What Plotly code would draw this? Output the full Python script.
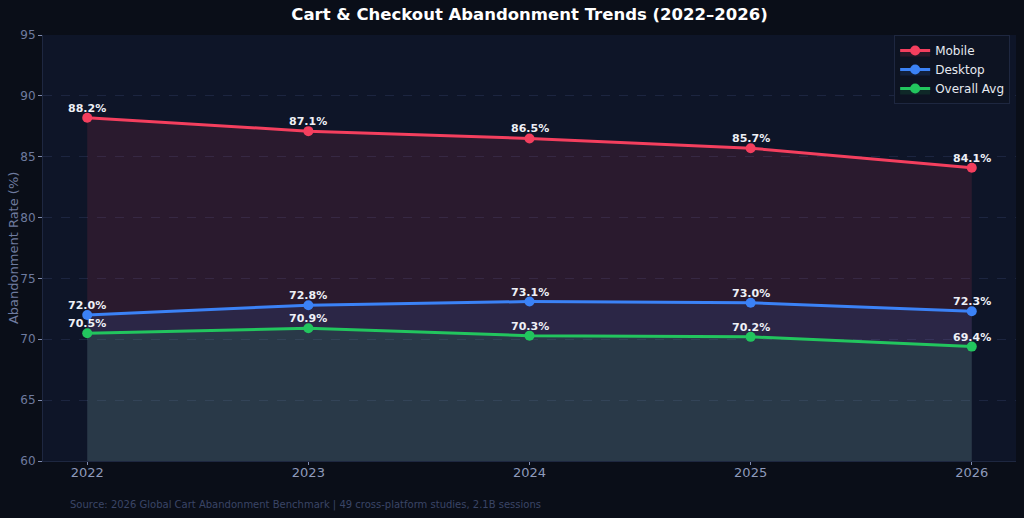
import plotly.graph_objects as go

years = ["2022", "2023", "2024", "2025", "2026"]
mobile = [88.2, 87.1, 86.5, 85.7, 84.1]
desktop = [72.0, 72.8, 73.1, 73.0, 72.3]
overall = [70.5, 70.9, 70.3, 70.2, 69.4]

series = [
    ("Mobile", mobile, "#f43f5e", "rgba(244,63,94,0.12)"),
    ("Desktop", desktop, "#3b82f6", "rgba(59,130,246,0.12)"),
    ("Overall Avg", overall, "#22c55e", "rgba(34,197,94,0.12)"),
]

fig = go.Figure()
annotations = []
for name, vals, col, fcol in series:
    fig.add_trace(go.Scatter(
        x=years, y=vals, name=name, mode="lines+markers",
        line=dict(color=col, width=3), marker=dict(size=10, color=col),
        fill="tozeroy", fillcolor=fcol,
    ))
    for i, v in enumerate(vals):
        annotations.append(dict(
            x=i, y=v, xref="x", yref="y", text=f"<b>{v:.1f}%</b>", showarrow=False,
            yanchor="bottom", yshift=1,
            font=dict(family="DejaVu Sans", size=11, color="#eef0f6")))

annotations.append(dict(
    text="Source: 2026 Global Cart Abandonment Benchmark | 49 cross-platform studies, 2.1B sessions",
    xref="paper", yref="paper", x=0.0257, y=-0.103, xanchor="left", yanchor="middle",
    showarrow=False, font=dict(size=10, color="#3a4566")))

annotations.append(dict(
    text="Abandonment Rate (%)", textangle=-90,
    xref="paper", yref="paper", x=-0.0308, y=0.5, xanchor="center", yanchor="middle",
    showarrow=False, font=dict(size=13, color="#6f7b9f")))

fig.update_layout(
    width=1024, height=518,
    paper_bgcolor="#0a0e18", plot_bgcolor="#0e1528",
    margin=dict(l=43, r=8, t=35, b=57),
    title=dict(text="<b>Cart & Checkout Abandonment Trends (2022–2026)</b>",
               x=0.5, xref="paper", xanchor="center", y=0.972, yanchor="middle",
               font=dict(family="DejaVu Sans", size=16.5, color="#ffffff")),
    font=dict(family="DejaVu Sans", color="#7f8bb0"),
    legend=dict(x=0.994, y=1.0, xanchor="right", yanchor="top",
                bgcolor="#0d1322", bordercolor="#1e2740", borderwidth=1,
                font=dict(size=12, color="#e6e9f0"), tracegroupgap=0),
    xaxis=dict(type="category", range=[-0.2, 4.2], showgrid=False,
               ticks="outside", ticklen=3, tickcolor="#7f8bb0", ticklabelstandoff=-4,
               tickfont=dict(size=13, color="#8e9abb"),
               showline=True, linecolor="#1e2740", zeroline=False, automargin=False),
    yaxis=dict(range=[60, 95], dtick=5, ticks="outside", ticklen=4, tickcolor="#7f8bb0",
               tickfont=dict(size=12, color="#6f7b9f"),
               gridcolor="#1c2540", griddash="dash", gridwidth=1,
               showline=True, linecolor="#1e2740", zeroline=False, automargin=False),
    annotations=annotations,
)

fig.write_html("out.html")
